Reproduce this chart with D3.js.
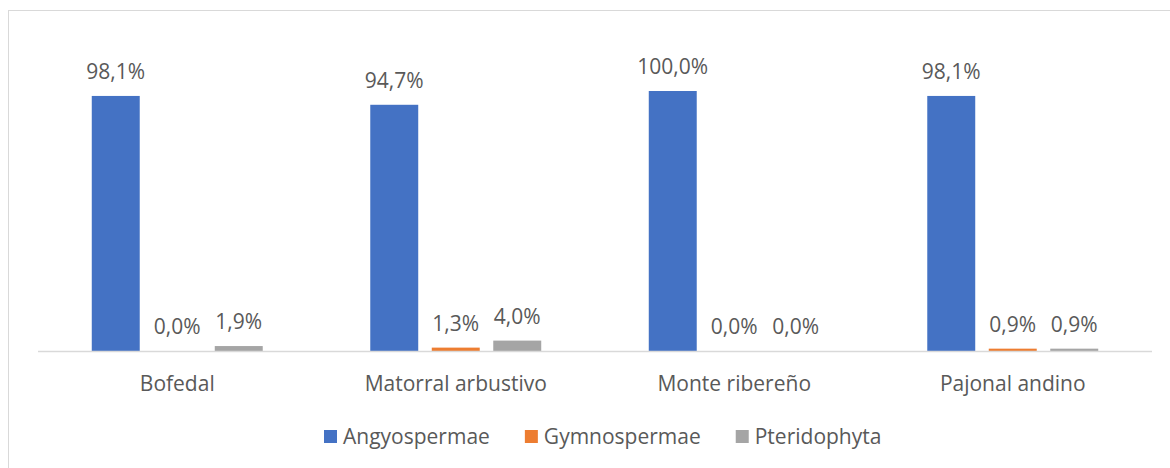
<!DOCTYPE html>
<html>
<head>
<meta charset="utf-8">
<script src="https://cdn.jsdelivr.net/npm/d3@7"></script>
<style>
  body { margin: 0; background: #fff; }
  svg text { font-family: "Open Sans", "Noto Sans", sans-serif; fill: #595959; }
</style>
</head>
<body>
<div id="chart"></div>
<script>
var categories = ["Bofedal", "Matorral arbustivo", "Monte ribereño", "Pajonal andino"];
var seriesNames = ["Angyospermae", "Gymnospermae", "Pteridophyta"];
var angyospermae = [98.1, 94.7, 100.0, 98.1];
var gymnospermae = [0.0, 1.3, 0.0, 0.9];
var pteridophyta = [1.9, 4.0, 0.0, 0.9];
var colors = ["#4472C4", "#ED7D31", "#A5A5A5"];

var seriesValues = [angyospermae, gymnospermae, pteridophyta];
var data = [];
categories.forEach(function(c, i) {
  seriesNames.forEach(function(s, j) {
    data.push({category: c, series: s, value: seriesValues[j][i], color: colors[j]});
  });
});

var full_width = 1170, full_height = 468;
var margin = {top: 91, left: 38, right: 18, bottom: 117};
var width = full_width - margin.left - margin.right;
var height = full_height - margin.top - margin.bottom;

var svg = d3.select("#chart")
  .append("svg")
    .attr("width", full_width)
    .attr("height", full_height);

// chart border
svg.append("rect")
  .attr("x", 8.5).attr("y", 10.5)
  .attr("width", 1180).attr("height", 480)
  .attr("fill", "none")
  .attr("stroke", "#d9d9d9")
  .attr("stroke-width", 1);

var g = svg.append("g")
  .attr("transform", "translate(" + margin.left + "," + margin.top + ")");

var x0 = d3.scaleBand()
  .domain(categories)
  .range([0, width]);

var x1 = d3.scaleBand()
  .domain(seriesNames)
  .range([-92.25, 92.25])
  .paddingInner(0.22)
  .paddingOuter(0.11);

var y = d3.scaleLinear()
  .domain([0, 100])
  .range([height, 0]);

// bars
g.selectAll("rect.bar")
  .data(data)
  .enter()
  .append("rect")
    .attr("class", "bar")
    .attr("x", function(d) { return x0(d.category) + x0.bandwidth()/2 + x1(d.series); })
    .attr("y", function(d) { return y(d.value); })
    .attr("width", x1.bandwidth())
    .attr("height", function(d) { return height - y(d.value); })
    .attr("fill", function(d) { return d.color; });

// x axis line
g.append("line")
  .attr("x1", 0).attr("x2", width)
  .attr("y1", height + 0.5).attr("y2", height + 0.5)
  .attr("stroke", "#d9d9d9")
  .attr("stroke-width", 1.5);

// value labels
var fmt = function(v) { return v.toFixed(1).replace(".", ",") + "%"; };
g.selectAll("text.label")
  .data(data)
  .enter()
  .append("text")
    .attr("class", "label")
    .attr("x", function(d) { return x0(d.category) + x0.bandwidth()/2 + x1(d.series) + x1.bandwidth()/2; })
    .attr("y", function(d) { return y(d.value) - 17; })
    .attr("text-anchor", "middle")
    .style("font-size", "21px")
    .text(function(d) { return fmt(d.value); });

// category labels
g.selectAll("text.cat")
  .data(categories)
  .enter()
  .append("text")
    .attr("class", "cat")
    .attr("x", function(d) { return x0(d) + x0.bandwidth()/2; })
    .attr("y", height + 40)
    .attr("text-anchor", "middle")
    .style("font-size", "21px")
    .text(function(d) { return d; });

// legend, laid out left to right
var legend = svg.append("g")
  .attr("transform", "translate(324,430)");
var lx = 0;
seriesNames.forEach(function(s, i) {
  var item = legend.append("g").attr("transform", "translate(" + lx + ",0)");
  item.append("rect")
    .attr("width", 13).attr("height", 13)
    .attr("fill", colors[i]);
  var t = item.append("text")
    .attr("x", 19)
    .attr("y", 14)
    .style("font-size", "21px")
    .text(s);
  lx += 19 + t.node().getComputedTextLength() + 35;
});
</script>
</body>
</html>
